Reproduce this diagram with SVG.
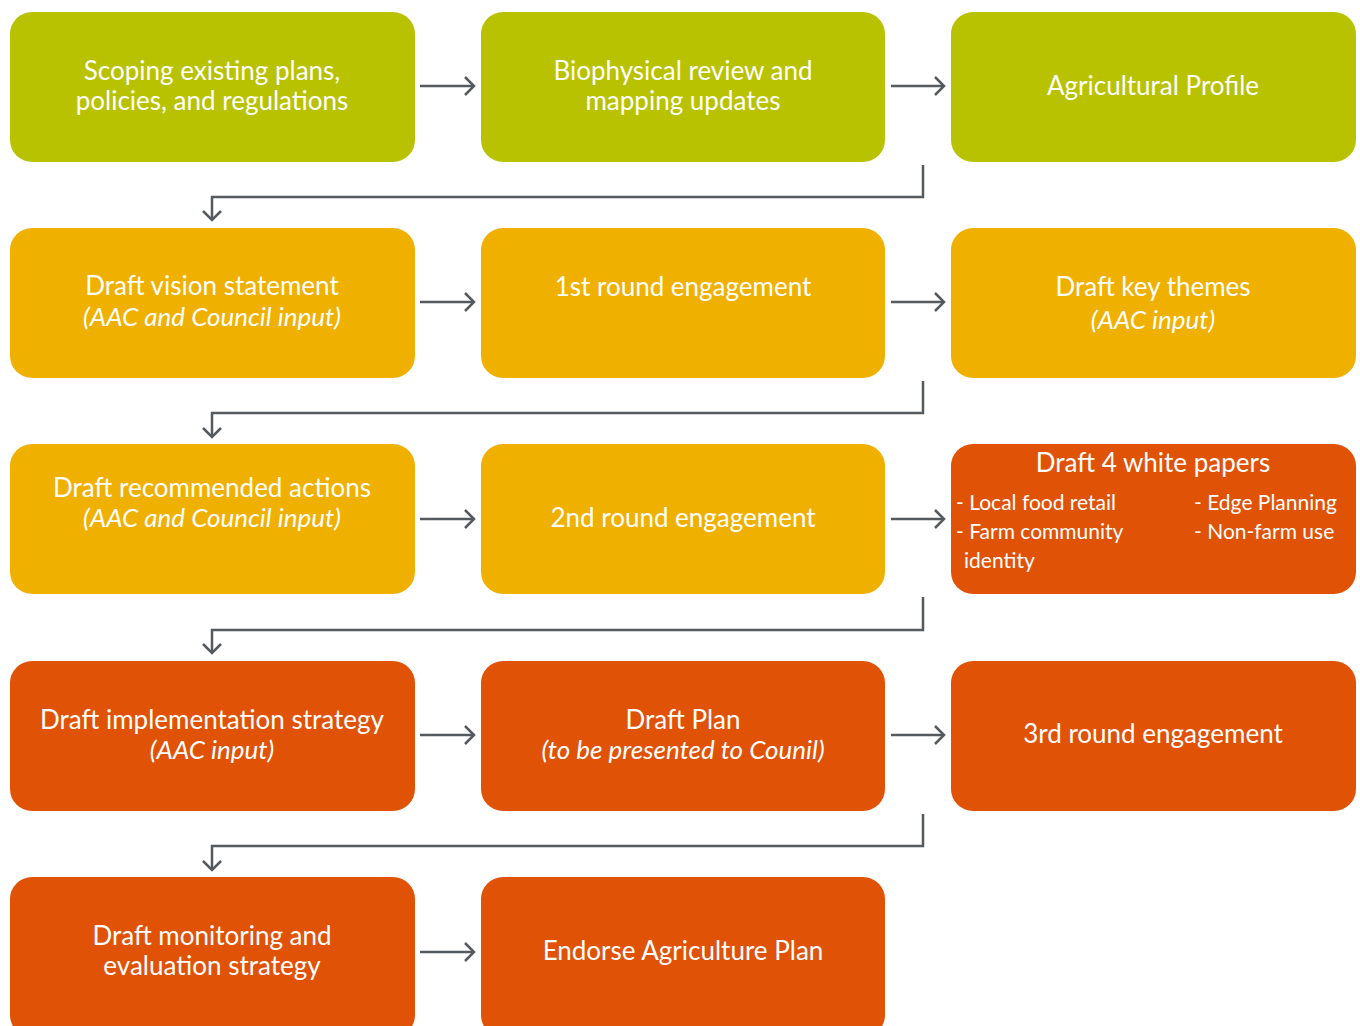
<svg xmlns="http://www.w3.org/2000/svg" width="1360" height="1026" viewBox="0 0 1360 1026">
<style>
.g{fill:#b8c200}.a{fill:#f0b000}.o{fill:#e05206}
text{font-family:Lato,"Open Sans",sans-serif;fill:#fff;font-size:26px;text-anchor:middle}
.i{font-style:italic}
.s{font-size:21px;text-anchor:start}
.c{fill:none;stroke:#555a5f;stroke-width:2.5}
</style>
<defs>
<marker id="ah" markerWidth="22" markerHeight="22" refX="11" refY="10" orient="auto" markerUnits="userSpaceOnUse">
<path d="M2,1 L11,10 L2,19" fill="none" stroke="#555a5f" stroke-width="2.5"/>
</marker>
</defs>
<g id="n1"><rect class="g" x="10" y="12" width="405" height="150" rx="22"/><text x="212" y="80">Scoping existing plans,</text><text x="212" y="110">policies, and regulations</text></g>
<g id="n2"><rect class="g" x="481" y="12" width="404" height="150" rx="22"/><text x="683" y="80">Biophysical review and</text><text x="683" y="110">mapping updates</text></g>
<g id="n3"><rect class="g" x="951" y="12" width="405" height="150" rx="22"/><text x="1153" y="95">Agricultural Profile</text></g>
<g id="n4"><rect class="a" x="10" y="228" width="405" height="150" rx="22"/><text x="212" y="295">Draft vision statement</text><text x="212" y="326" class="i">(AAC and Council input)</text></g>
<g id="n5"><rect class="a" x="481" y="228" width="404" height="150" rx="22"/><text x="683" y="296">1st round engagement</text></g>
<g id="n6"><rect class="a" x="951" y="228" width="405" height="150" rx="22"/><text x="1153" y="296">Draft key themes</text><text x="1153" y="329" class="i">(AAC input)</text></g>
<g id="n7"><rect class="a" x="10" y="444" width="405" height="150" rx="22"/><text x="212" y="497">Draft recommended actions</text><text x="212" y="527" class="i">(AAC and Council input)</text></g>
<g id="n8"><rect class="a" x="481" y="444" width="404" height="150" rx="22"/><text x="683" y="527">2nd round engagement</text></g>
<g id="n9"><rect class="o" x="951" y="444" width="405" height="150" rx="22"/><text x="1153" y="472">Draft 4 white papers</text>
<text class="s" x="956" y="510">- Local food retail</text><text class="s" x="956" y="539">- Farm community</text><text class="s" x="964" y="568">identity</text>
<text class="s" x="1194" y="510">- Edge Planning</text><text class="s" x="1194" y="539">- Non-farm use</text></g>
<g id="n10"><rect class="o" x="10" y="661" width="405" height="150" rx="22"/><text x="212" y="729">Draft implementation strategy</text><text x="212" y="759" class="i">(AAC input)</text></g>
<g id="n11"><rect class="o" x="481" y="661" width="404" height="150" rx="22"/><text x="683" y="729">Draft Plan</text><text x="683" y="759" class="i">(to be presented to Counil)</text></g>
<g id="n12"><rect class="o" x="951" y="661" width="405" height="150" rx="22"/><text x="1153" y="743">3rd round engagement</text></g>
<g id="n13"><rect class="o" x="10" y="877" width="405" height="160" rx="22"/><text x="212" y="945">Draft monitoring and</text><text x="212" y="975">evaluation strategy</text></g>
<g id="n14"><rect class="o" x="481" y="877" width="404" height="160" rx="22"/><text x="683" y="960">Endorse Agriculture Plan</text></g>
<g id="connectors">
<path class="c" marker-end="url(#ah)" d="M420,86 H474"/>
<path class="c" marker-end="url(#ah)" d="M891,86 H944"/>
<path class="c" marker-end="url(#ah)" d="M923,165 V197 H212 V220"/>
<path class="c" marker-end="url(#ah)" d="M420,302 H474"/>
<path class="c" marker-end="url(#ah)" d="M891,302 H944"/>
<path class="c" marker-end="url(#ah)" d="M923,381 V413 H212 V437"/>
<path class="c" marker-end="url(#ah)" d="M420,519 H474"/>
<path class="c" marker-end="url(#ah)" d="M891,519 H944"/>
<path class="c" marker-end="url(#ah)" d="M923,597 V630 H212 V653"/>
<path class="c" marker-end="url(#ah)" d="M420,735 H474"/>
<path class="c" marker-end="url(#ah)" d="M891,735 H944"/>
<path class="c" marker-end="url(#ah)" d="M923,814 V846 H212 V870"/>
<path class="c" marker-end="url(#ah)" d="M420,952 H474"/>
</g>
</svg>
